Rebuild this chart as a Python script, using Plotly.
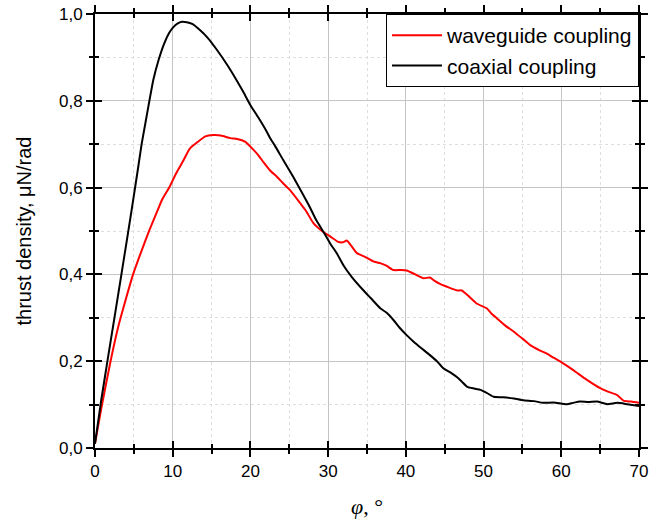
import plotly.graph_objects as go

# coaxial coupling (black)
coax_x = [0, 0.8, 1.6, 2.5, 3.4, 4.2, 4.9, 5.5, 6.0, 6.5, 7.0, 7.5, 8.2, 8.9, 9.5, 10.0, 10.6, 11.2, 11.8, 12.5,
          13.5, 14.5, 15.7, 17.0, 18.2, 19.0, 20.0, 21.0, 22.0, 22.5, 23.2, 24.2, 25.5, 26.5, 27.5, 28.5, 29.5,
          30.3, 31.1, 32.0, 33.0, 34.5, 35.5, 36.7, 37.5, 38.4, 39.2, 40.1, 41.0, 42.0, 43.1, 44.0, 44.8, 45.9,
          46.6, 47.2, 47.9, 48.8, 49.6, 50.4, 51.3, 52.5, 53.9, 55.1, 56.5, 57.7, 59.0, 60.7, 61.5, 62.4, 63.5,
          64.6, 65.9, 67.2, 68.5, 70]
coax_y = [0.01, 0.11, 0.20, 0.30, 0.40, 0.49, 0.57, 0.64, 0.70, 0.75, 0.80, 0.848, 0.895, 0.932, 0.955, 0.968,
          0.978, 0.982, 0.981, 0.977, 0.963, 0.945, 0.917, 0.883, 0.848, 0.823, 0.79, 0.762, 0.732, 0.715, 0.695,
          0.664, 0.625, 0.593, 0.56, 0.524, 0.495, 0.47, 0.449, 0.42, 0.395, 0.364, 0.345, 0.322, 0.312, 0.295,
          0.277, 0.26, 0.245, 0.23, 0.214, 0.2, 0.184, 0.172, 0.163, 0.153, 0.141, 0.137, 0.134, 0.127, 0.118,
          0.117, 0.114, 0.11, 0.108, 0.104, 0.105, 0.101, 0.104, 0.107, 0.106, 0.107, 0.101, 0.104, 0.101, 0.097]

# waveguide coupling (red)
wave_x = [0, 0.8, 2.0, 3.0, 4.0, 4.9, 6.0, 7.0, 8.0, 8.6, 9.6, 10.5, 11.3, 12.2, 13.2, 14.2, 15.2, 16.2, 17.4,
          18.3, 19.3, 20.4, 21.0, 21.7, 22.5, 23.4, 24.2, 25.1, 26.4, 27.2, 28.1, 29.2, 30.3, 31.3, 31.9, 32.4,
          33.0, 33.7, 34.8, 35.8, 36.7, 37.5, 38.4, 39.3, 40.1, 41.2, 42.3, 43.1, 43.7, 44.4, 45.5, 46.6, 47.2,
          48.2, 49.1, 50.4, 51.0, 51.7, 52.8, 53.9, 55.0, 56.0, 57.2, 58.2, 59.0, 59.9, 61.5, 63.3, 65.0, 66.0,
          67.2, 68.0, 69.0, 70]
wave_y = [0.01, 0.09, 0.20, 0.28, 0.345, 0.40, 0.455, 0.502, 0.545, 0.571, 0.602, 0.635, 0.66, 0.69, 0.705,
          0.718, 0.721, 0.72, 0.714, 0.712, 0.706, 0.687, 0.675, 0.658, 0.64, 0.625, 0.61, 0.594, 0.564, 0.545,
          0.518, 0.50, 0.487, 0.475, 0.474, 0.478, 0.465, 0.449, 0.44, 0.43, 0.426, 0.42, 0.41, 0.41, 0.409, 0.40,
          0.391, 0.393, 0.385, 0.378, 0.37, 0.363, 0.363, 0.348, 0.333, 0.322, 0.31, 0.299, 0.282, 0.268, 0.252,
          0.237, 0.225, 0.217, 0.208, 0.199, 0.18, 0.157, 0.138, 0.13, 0.122, 0.109, 0.107, 0.104]

x_ticks = [0, 10, 20, 30, 40, 50, 60, 70]
y_ticks = [0.0, 0.2, 0.4, 0.6, 0.8, 1.0]

fig = go.Figure()
fig.add_trace(go.Scatter(x=wave_x, y=wave_y, mode="lines", name="waveguide coupling",
                         line=dict(color="#ff0000", width=2, shape="spline", smoothing=0.5)))
fig.add_trace(go.Scatter(x=coax_x, y=coax_y, mode="lines", name="coaxial coupling",
                         line=dict(color="black", width=2, shape="spline", smoothing=0.5)))
# invisible trace to create the overlay axes for inward ticks
fig.add_trace(go.Scatter(x=[x_ticks[0]], y=[y_ticks[0]], xaxis="x2", yaxis="y2", mode="markers",
                         marker=dict(opacity=0), showlegend=False, hoverinfo="skip"))

font = dict(family="Liberation Sans, Arial, sans-serif", size=17, color="black")

fig.update_layout(
    width=665, height=521,
    margin=dict(l=95, r=26, t=14, b=73, autoexpand=False),
    paper_bgcolor="white", plot_bgcolor="white",
    separators=", ",
    font=font,
    showlegend=True,
    legend=dict(x=1.0, y=1.0, xanchor="right", yanchor="top", bgcolor="white",
                bordercolor="black", borderwidth=1, font=dict(size=21),
                tracegroupgap=0, itemwidth=50),
    xaxis=dict(range=[0, 70], tickvals=x_ticks, showline=True, linecolor="black", linewidth=2,
               mirror="ticks", ticks="outside", ticklen=7, tickwidth=2, tickcolor="black",
               showgrid=True, gridcolor="#c4c4c4", gridwidth=1, zeroline=False, automargin=False,
               ticklabeloverflow="allow",
               minor=dict(dtick=5, ticks="outside", ticklen=4, tickwidth=1.5, tickcolor="black",
                          showgrid=True, gridcolor="#dedede", griddash="dot", gridwidth=1),
               title=dict(text="<i>φ</i>, °", font=dict(family="Liberation Serif, Times New Roman, serif", size=22),
                          standoff=18),
               tickfont=dict(size=17)),
    yaxis=dict(range=[0, 1.0], tickvals=y_ticks, tickformat=".1f", showline=True, linecolor="black",
               linewidth=2, mirror="ticks", ticks="outside", ticklen=7, tickwidth=2, tickcolor="black",
               showgrid=True, gridcolor="#c4c4c4", gridwidth=1, zeroline=False, automargin=False,
               ticklabeloverflow="allow",
               minor=dict(dtick=0.1, ticks="outside", ticklen=4, tickwidth=1.5, tickcolor="black",
                          showgrid=True, gridcolor="#dedede", griddash="dot", gridwidth=1),
               title=dict(text="thrust density, μN/rad", font=dict(size=20), standoff=22),
               tickfont=dict(size=17)),
    xaxis2=dict(range=[0, 70], overlaying="x", anchor="y2", tickvals=x_ticks, showticklabels=False,
                mirror="ticks", ticks="inside", ticklen=7, tickwidth=2, tickcolor="black",
                showline=False, showgrid=False, zeroline=False, automargin=False,
                minor=dict(dtick=5, ticks="inside", ticklen=4, tickwidth=1.5, tickcolor="black")),
    yaxis2=dict(range=[0, 1.0], overlaying="y", anchor="x2", tickvals=y_ticks, showticklabels=False,
                mirror="ticks", ticks="inside", ticklen=7, tickwidth=2, tickcolor="black",
                showline=False, showgrid=False, zeroline=False, automargin=False,
                minor=dict(dtick=0.1, ticks="inside", ticklen=4, tickwidth=1.5, tickcolor="black")),
)

fig.write_html("out.html", config={"displayModeBar": False},
               post_script="document.body.style.margin='0';")
